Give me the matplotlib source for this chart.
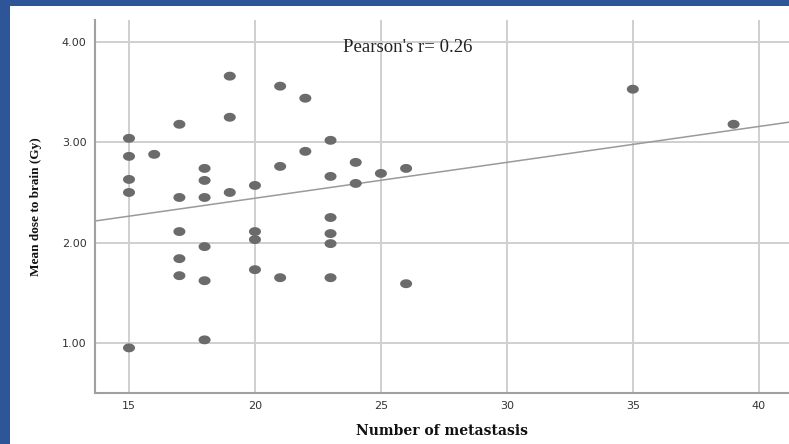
import numpy as np
import matplotlib
matplotlib.use("Agg")
import matplotlib.pyplot as plt
from matplotlib.patches import Rectangle
from matplotlib.path import Path

# Data
metastases = [15, 15, 15, 15, 15,
              16,
              17, 17, 17, 17, 17,
              18, 18, 18, 18, 18, 18,
              19, 19, 19,
              20, 20, 20, 20,
              21, 21, 21,
              22, 22,
              23, 23, 23, 23, 23, 23,
              24, 24,
              25,
              26, 26,
              35, 39]
mean_dose = [3.04, 2.86, 2.63, 2.50, 0.95,
             2.88,
             3.18, 2.45, 2.11, 1.84, 1.67,
             2.74, 2.62, 2.45, 1.96, 1.62, 1.03,
             3.66, 3.25, 2.50,
             2.57, 2.11, 2.03, 1.73,
             3.56, 2.76, 1.65,
             3.44, 2.91,
             3.02, 2.66, 2.25, 2.09, 1.99, 1.65,
             2.80, 2.59,
             2.69,
             2.74, 1.59,
             3.53, 3.18]
x_ticks = [15, 20, 25, 30, 35, 40]
y_ticks = [1.0, 2.0, 3.0, 4.0]
y_ticklabels = ["1.00", "2.00", "3.00", "4.00"]
annotation = "Pearson's r= 0.26"

W, H = 789, 444
fig = plt.figure(figsize=(W / 100, H / 100), dpi=100)
fig.patch.set_facecolor("white")

ax = fig.add_axes([95 / W, (H - 393) / H, 1 - 95 / W, (393 - 20) / H])
ax.set_xlim(13.65, 41.2)
ax.set_ylim(0.50, 4.22)

ax.set_xticks(x_ticks)
ax.set_yticks(y_ticks)
ax.set_yticklabels(y_ticklabels)
ax.grid(True, color="#cfcfcf", linewidth=1.4, zorder=0)
ax.set_axisbelow(True)
ax.tick_params(length=0, labelsize=8, labelcolor="#333333", pad=6)
for lab in ax.get_xticklabels() + ax.get_yticklabels():
    lab.set_family("DejaVu Sans")

for s in ["top", "right"]:
    ax.spines[s].set_visible(False)
for s in ["left", "bottom"]:
    ax.spines[s].set_color("#a0a0a0")
    ax.spines[s].set_linewidth(1.5)

# Elliptical marker (slightly wider than tall)
t = np.linspace(0, 2 * np.pi, 40)
ell = Path(np.column_stack([1.35 * np.cos(t), np.sin(t)]), closed=True)
ax.scatter(metastases, mean_dose, marker=ell, s=75, color="#6b6b6b",
           edgecolors="none", zorder=3)

# Linear fit line
slope, intercept = np.polyfit(metastases, mean_dose, 1)
xs = np.array(ax.get_xlim())
ax.plot(xs, slope * xs + intercept, color="#9a9a9a", linewidth=1.1, zorder=2)

ax.text(343, H - 47, annotation, transform=None, fontsize=13.5,
        family="Liberation Serif", color="#222222", va="center", ha="left")

ax.set_xlabel("Number of metastasis", family="DejaVu Serif",
              fontweight="bold", fontsize=10, color="#111111", labelpad=9)
ax.set_ylabel("Mean dose to brain (Gy)", family="Liberation Serif",
              fontweight="bold", fontsize=9.5, color="#111111", labelpad=14)

# Blue frame
blue = "#2e5597"
fig.patches.append(Rectangle((0, 0), 10 / W, 1, transform=fig.transFigure,
                             facecolor=blue, edgecolor="none", zorder=10))
fig.patches.append(Rectangle((0, 1 - 6 / H), 1, 6 / H, transform=fig.transFigure,
                             facecolor=blue, edgecolor="none", zorder=10))

fig.savefig("out.png", dpi=100)
